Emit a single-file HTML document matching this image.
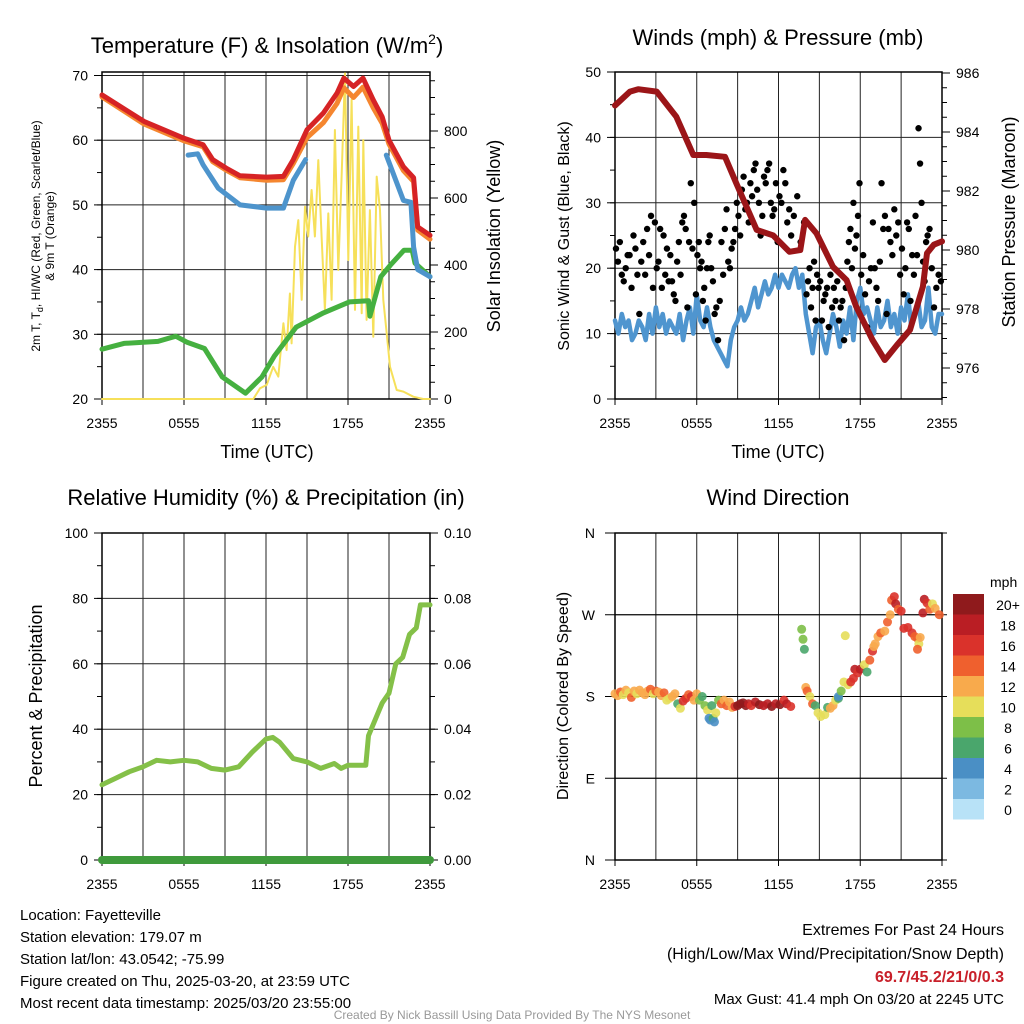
<!DOCTYPE html>
<html><head><meta charset="utf-8"><style>
html,body{margin:0;padding:0;background:#fff}
svg{display:block;font-family:"Liberation Sans",Arial,sans-serif}
</style></head><body>
<svg id="c" width="1024" height="1024" viewBox="0 0 1024 1024" xmlns="http://www.w3.org/2000/svg">
<g id="g1"></g>
<g id="g2"></g>
<g id="g3"></g>
<g id="g4"></g>
<text x="267" y="53" font-size="22" text-anchor="middle">Temperature (F) &amp; Insolation (W/m<tspan font-size="14" dy="-9">2</tspan><tspan dy="9">)</tspan></text>
<text x="778" y="45" font-size="22" text-anchor="middle">Winds (mph) &amp; Pressure (mb)</text>
<text x="266" y="505" font-size="22" text-anchor="middle">Relative Humidity (%) &amp; Precipitation (in)</text>
<text x="778" y="505" font-size="22" text-anchor="middle">Wind Direction</text>
<text x="267" y="458" font-size="18" text-anchor="middle">Time (UTC)</text>
<text x="778" y="458" font-size="18" text-anchor="middle">Time (UTC)</text>
<text transform="translate(40,236) rotate(-90)" font-size="12" text-anchor="middle">2m T, T<tspan font-size="9" dy="3">d</tspan><tspan dy="-3">, HI/WC (Red, Green, Scarlet/Blue)</tspan></text>
<text transform="translate(54,236) rotate(-90)" font-size="12" text-anchor="middle">&amp; 9m T (Orange)</text>
<text transform="translate(500,236) rotate(-90)" font-size="18" text-anchor="middle">Solar Insolation (Yellow)</text>
<text transform="translate(569,236) rotate(-90)" font-size="16" text-anchor="middle">Sonic Wind &amp; Gust (Blue, Black)</text>
<text transform="translate(1015,222) rotate(-90)" font-size="18" text-anchor="middle">Station Pressure (Maroon)</text>
<text transform="translate(42,696) rotate(-90)" font-size="18" text-anchor="middle">Percent &amp; Precipitation</text>
<text transform="translate(568,696) rotate(-90)" font-size="16" text-anchor="middle">Direction (Colored By Speed)</text>
<g font-size="15">
<text x="20" y="920">Location: Fayetteville</text>
<text x="20" y="942">Station elevation: 179.07 m</text>
<text x="20" y="964">Station lat/lon: 43.0542; -75.99</text>
<text x="20" y="986">Figure created on Thu, 2025-03-20, at 23:59 UTC</text>
<text x="20" y="1008">Most recent data timestamp: 2025/03/20 23:55:00</text>
</g>
<g font-size="16" text-anchor="end">
<text x="1004" y="935">Extremes For Past 24 Hours</text>
<text x="1004" y="959">(High/Low/Max Wind/Precipitation/Snow Depth)</text>
<text x="1004" y="982" fill="#c8202a" font-weight="bold">69.7/45.2/21/0/0.3</text>
<text x="1004" y="1004" font-size="15">Max Gust: 41.4 mph On 03/20 at 2245 UTC</text>
</g>
<text x="512" y="1019" font-size="12" fill="#999" text-anchor="middle">Created By Nick Bassill Using Data Provided By The NYS Mesonet</text>
</svg>
<script>
const xTickLabels=["2355","0555","1155","1755","2355"];
// Temperature panel data (t in hours since 2355)
const redT=[0,3.07,6,7.4,8.1,9.07,10.1,12.05,13.27,14,15,16.2,17.2,17.7,18.4,19.1,19.85,20.5,21,22.05,22.8,23.1,24];
const redV=[67,62.9,60.3,59.3,57,55.7,54.5,54.3,54.4,57,61.6,64.2,67.3,69.6,68.3,69.6,66.2,63.6,60,55.9,54.2,46.6,45.3];
const orangeOff=[0.3,0.4,0.4,0.3,0.3,0.3,0.3,0.5,0.5,0.6,1.2,1.5,1.6,1.5,1.7,1.4,1.2,1,0.6,0.6,0.6,0.5,0.6];
const blueT=[6.3,7.0,7.4,8.5,10.1,12.05,13.27,14,14.9,15.5,20.8,22.05,22.6,22.8,23.1,24];
const blueV=[57.7,57.9,56.2,52.6,50,49.5,49.5,53.8,57,null,57.7,50.7,50.4,43.5,40,38.9];
const greenT=[0,1.6,4.1,5.4,6.2,7.5,8.8,10.5,11.7,12.6,14.2,16.2,18.1,19.5,19.6,20.4,21.1,22.1,22.7,22.9,24];
const greenV=[27.7,28.6,28.9,29.7,28.8,27.8,23.4,20.9,23.4,26.6,31.1,33.3,35,35.2,32.8,38.9,40.7,43,43,41,38.9];
const solT=[0,11.07,11.56,12.05,12.53,12.9,13.27,13.51,13.75,13.87,14.12,14.36,14.61,14.85,15.09,15.34,15.58,15.83,16.07,16.31,16.56,16.8,17.04,17.29,17.53,17.78,18.02,18.26,18.51,18.75,19.0,19.12,19.36,19.6,19.85,20.1,20.34,20.58,20.83,21.07,21.56,22.05,22.78,23.5,24];
const solV=[0,0,32,42,96,67,226,146,315,166,455,534,296,574,485,624,485,713,485,266,554,296,803,385,664,972,415,893,266,813,256,773,236,564,186,664,564,296,196,96,27,22,7,0,0];
// Winds panel data
const presT=[0,1.1,1.7,3.06,4.5,5.75,6.7,8.07,8.9,10.4,11.6,12.8,13.6,13.95,14.8,16,17,17.7,18.9,19.8,20.7,21.65,22.6,22.9,23.4,24];
const presV=[984.9,985.37,985.45,985.37,984.52,983.22,983.22,983.16,982.26,980.68,980.5,979.94,980,981.02,980.56,979.43,978.98,978.08,976.95,976.27,976.78,977.29,978.76,979.89,980.18,980.29];
const windV=[12,10,13,11,12,9,10,12,11,9,13,10,14,11,13,10,12,11,10,13,9,12,14,10,16,12,11,14,11,9,8,7,6,5,9,11,12,14,12,13,15,17,14,16,18,16,17,19,17,19,18,17,19,20,17,19,13,10,7,11,12,9,7,10,13,11,8,12,10,14,9,15,17,13,14,12,10,14,11,12,15,11,13,10,14,12,16,11,13,15,11,12,17,11,10,13,13];
const gustByHour=[[23,21,24,19,18,20,22],[22,17,25,23,19,13,21],[24,19,26,22,28,17,27],[20,21,26,17,25,19,23,18],[22,18,16,15,21,24,19,27],[28,26,14,24,33,23,30,16],[22,24,20,21,15,17,12,20,24,25],[20,18,13,14,9,15,24,19],[26,29,21,20,23,24,26,30],[28,25,32,34,29,30,27,33],[31,35,36,32,30,25,28,34],[33,35,36,30,28,29,33,24],[31,30,35,33,27,29,25],[28,31,24,27],[16,18,20,14,17,21,12,19,17],[18,12,15,16,17,11,19,14],[17,15,18,12,14,15,9,17],[21,24,26,20,30,23,25,28,33],[19,22,16,11,18,20,27],[20,17,15,21,33,26,28,13],[26,24,22,29,25,27,19],[23,16,20,27,26,15,22,19],[28,22,41.4,36,30,21,18,24,25],[26,20,14,17,19,18]];
// Humidity panel data
const rhT=[0,1,2,3,4,5,6,7,8,9,10,11,12,12.5,13,14,15,16,17,17.5,18,19,19.3,19.5,20,20.5,21,21.5,22,22.5,23,23.3,24];
const rhV=[23,25,27,28.5,30.5,30,30.5,30,28,27.5,28.5,33,37,37.5,36,31,30,28,29.5,28,29,29,29,38,43,48,51,60,62,69,71,78,78];
const precipT=[0,24];
const precipV=[0,0];
// Wind direction data: time, degrees, speed
const dirT=[0,0.2,0.4,0.6,0.8,1.0,1.2,1.4,1.6,1.8,2.0,2.2,2.4,2.6,2.8,3.0,3.2,3.4,3.6,3.8,4.0,4.2,4.4,4.6,4.8,5.0,5.2,5.4,5.6,5.8,6.0,6.2,6.4,6.6,6.8,6.9,7.0,7.2,7.3,7.1,7.4,7.6,7.8,8.0,8.2,8.4,8.6,8.8,9.0,9.2,9.4,9.6,9.8,10.0,10.3,10.6,10.9,11.2,11.5,11.8,12.1,12.4,12.6,12.9,13.7,13.8,13.9,14.0,14.1,14.3,14.5,14.7,14.9,15.1,15.4,15.6,15.8,16.0,16.2,16.4,16.4,16.6,16.8,16.9,17.1,17.3,17.5,17.6,17.8,18.0,18.3,18.5,18.7,18.9,19.0,19.1,19.3,19.5,19.8,20.0,20.2,20.3,20.5,20.6,20.8,21.0,21.2,21.5,21.8,22.0,22.2,22.3,22.4,22.2,22.6,22.7,22.9,23.1,23.3,23.5,23.8];
const dirV=[183,181,185,182,187,184,179,186,183,187,184,182,186,188,183,186,185,181,184,176,178,180,183,172,167,175,178,182,180,176,183,176,180,170,165,156,154,156,152,170,162,176,172,176,170,174,168,169,170,172,173,170,172,170,174,171,170,172,169,172,171,176,172,169,254,243,232,190,186,180,172,170,162,158,160,168,167,170,176,178,180,186,196,247,193,196,200,210,206,210,215,207,220,230,235,238,246,250,252,262,270,286,290,282,276,274,255,256,250,246,244,238,245,232,272,287,283,276,282,277,270];
const dirS=[12,13,14,10,12,11,15,12,10,12,13,12,12,14,11,14,13,12,14,10,10,12,12,7,10,16,16,14,16,12,12,9,7,8,10,4,4,6,4,6,10,8,14,12,14,13,12,16,20,20,21,20,18,16,18,20,18,18,20,18,20,17,18,16,8,8,6,12,14,10,14,6,10,10,10,6,12,12,10,7,4,8,10,10,10,16,16,18,16,18,10,7,14,16,12,12,12,14,12,14,12,14,16,18,14,16,16,16,16,14,14,10,12,14,18,18,16,14,10,12,14];
const barLabels=["20+","18","16","14","12","10","8","6","4","2","0"];
const barColors=["#8f1a1c","#ba1e24","#da322b","#ef602e","#f8aa4c","#e6de5a","#7dbf48","#4aa66c","#4a8fc5","#7cb9e1","#b8e2f7"];

const NS="http://www.w3.org/2000/svg";
function mk(parent,tag,attrs){const e=document.createElementNS(NS,tag);for(const k in attrs)e.setAttribute(k,attrs[k]);parent.appendChild(e);return e;}
function lin(d0,d1,r0,r1){return v=>r0+(v-d0)*(r1-r0)/(d1-d0);}

function frame(g,x0,x1,y0,y1,xs,hVals,ys){
  for(let h=0;h<=24;h+=3){const l=mk(g,'line',{x1:xs(h),x2:xs(h),y1:y0,y2:y1,stroke:'#222','stroke-width':1});
    
    }
  hVals.forEach(v=>{const l=mk(g,'line',{x1:x0,x2:x1,y1:ys(v),y2:ys(v),stroke:'#222','stroke-width':1});
    
    });
  xTickLabels.forEach((s,i)=>{const t=mk(g,'text',{x:xs(i*6),y:y1+29,'font-size':14,'text-anchor':'middle'});t.textContent=s;
    
    
    mk(g,'line',{x1:xs(i*6),x2:xs(i*6),y1:y1,y2:y1+6,stroke:'#000'});});
  const r=mk(g,'rect',{x:x0,y:y0,width:x1-x0,height:y1-y0,fill:'none',stroke:'#000','stroke-width':1.5});
  
  
}
function leftAxis(g,x0,ys,vals,labels,minor){
  minor.forEach(v=>mk(g,'line',{x1:x0-5,x2:x0,y1:ys(v),y2:ys(v),stroke:'#000'}));
  vals.forEach((v,i)=>{mk(g,'line',{x1:x0-8,x2:x0,y1:ys(v),y2:ys(v),stroke:'#000'});
    const t=mk(g,'text',{x:x0-14,y:ys(v)+5,'font-size':14,'text-anchor':'end'});t.textContent=labels[i];
    
    });
}
function rightAxis(g,x1,ys,vals,labels,minor){
  minor.forEach(v=>mk(g,'line',{x1:x1,x2:x1+5,y1:ys(v),y2:ys(v),stroke:'#000'}));
  vals.forEach((v,i)=>{mk(g,'line',{x1:x1,x2:x1+8,y1:ys(v),y2:ys(v),stroke:'#000'});
    const t=mk(g,'text',{x:x1+14,y:ys(v)+5,'font-size':14,'text-anchor':'start'});t.textContent=labels[i];
    
    });
}
function line(g,xs,ys,T,V,color,w,name){
  let d='';let pen=false;
  T.forEach((t,i)=>{if(V[i]==null){pen=false;return;}d+=(pen?'L':'M')+xs(t).toFixed(1)+','+ys(V[i]).toFixed(1);pen=true;});
  const p=mk(g,'path',{d:d,fill:'none',stroke:color,'stroke-width':w,'stroke-linejoin':'round','stroke-linecap':'round'});
  
  
  return p;
}
function range(a,b,s){const r=[];for(let v=a;v<=b+1e-9;v+=s)r.push(+v.toFixed(3));return r;}

// Panel 1
{const g=document.getElementById('g1');const X0=102,X1=430,Y0=72,Y1=399;
 const xs=lin(0,24,X0,X1),ys=lin(20,70,Y1,75.5),ysR=lin(0,200,Y1,332);
 frame(g,X0,X1,Y0,Y1,xs,[30,40,50,60,70],ys);
 leftAxis(g,X0,ys,[20,30,40,50,60,70],["20","30","40","50","60","70"],range(20,70,5));
 rightAxis(g,X1,ysR,[0,200,400,600,800],["0","200","400","600","800"],range(0,950,50));
 line(g,xs,ysR,solT,solV,'#f6e05a',2,'insolation-line');
 line(g,xs,ys,greenT,greenV,'#45b040',5,'dewpoint-line');
 line(g,xs,ys,redT,redV.map((v,i)=>v-orangeOff[i]),'#f5862f',5,'temp-9m-line');
 line(g,xs,ys,blueT,blueV,'#4d94cc',5,'windchill-line');
 line(g,xs,ys,redT,redV,'#d62325',5,'temp-2m-line');
}
// Panel 2
{const g=document.getElementById('g2');const X0=615,X1=942,Y0=72,Y1=399;
 const xs=lin(0,24,X0,X1),ys=lin(0,50,Y1,72),ysR=lin(976,986,368,73);
 frame(g,X0,X1,Y0,Y1,xs,[10,20,30,40],ys);
 leftAxis(g,X0,ys,[0,10,20,30,40,50],["0","10","20","30","40","50"],range(0,50,5));
 rightAxis(g,X1,ysR,[976,978,980,982,984,986],["976","978","980","982","984","986"],range(975,986,0.5));
 const wT=windV.map((v,i)=>i*0.25);
 line(g,xs,ys,wT,windV,'#4f95cf',4.5,'sonic-wind-line');
 gustByHour.forEach((arr,h)=>arr.forEach((v,i)=>{const t=h+(i+0.5)/arr.length;
   const c=mk(g,'circle',{cx:xs(t),cy:ys(v),r:3.2,fill:'#000'});
   
   }));
 line(g,xs,ysR,presT,presV,'#9b1518',6,'pressure-line');
}
// Panel 3
{const g=document.getElementById('g3');const X0=102,X1=430,Y0=533,Y1=860;
 const xs=lin(0,24,X0,X1),ys=lin(0,100,Y1,Y0),ysR=lin(0,0.1,Y1,Y0);
 frame(g,X0,X1,Y0,Y1,xs,[20,40,60,80],ys);
 leftAxis(g,X0,ys,[0,20,40,60,80,100],["0","20","40","60","80","100"],range(0,100,10));
 rightAxis(g,X1,ysR,[0,0.02,0.04,0.06,0.08,0.1],["0.00","0.02","0.04","0.06","0.08","0.10"],range(0,0.1,0.01));
 line(g,xs,ys,rhT,rhV,'#84c048',5,'humidity-line');
 line(g,xs,ysR,precipT,precipV,'#3f9a3c',8,'precipitation-line');
}
// Panel 4
{const g=document.getElementById('g4');const X0=615,X1=942,Y0=533,Y1=860;
 const xs=lin(0,24,X0,X1),ys=lin(0,360,Y1,Y0);
 frame(g,X0,X1,Y0,Y1,xs,[90,180,270],ys);
 const dl=["N","E","S","W","N"];
 [0,90,180,270,360].forEach((v,i)=>{mk(g,'line',{x1:X0-10,x2:X1+5,y1:ys(v),y2:ys(v),stroke:'#000'});
   const t=mk(g,'text',{x:X0-20,y:ys(v)+5,'font-size':14,'text-anchor':'end'});t.textContent=dl[i];
   
   });
 dirT.forEach((t,i)=>{const idx=Math.min(10,Math.floor(dirS[i]/2));
   const c=mk(g,'circle',{cx:xs(t),cy:ys(dirV[i]),r:4.5,fill:barColors[10-idx],'fill-opacity':0.9});
   
   });
 const lg=mk(g,'g',{});
 
 
 const t0=mk(lg,'text',{x:990,y:587,'font-size':14});t0.textContent='mph';
 barLabels.forEach((s,i)=>{const y=594+i*20.5;
   mk(lg,'rect',{x:953,y:y,width:31,height:20.5,fill:barColors[i]});
   const t=mk(lg,'text',{x:1008,y:y+16,'font-size':14,'text-anchor':'middle'});t.textContent=s;
   
   });
}
</script>
</body></html>
